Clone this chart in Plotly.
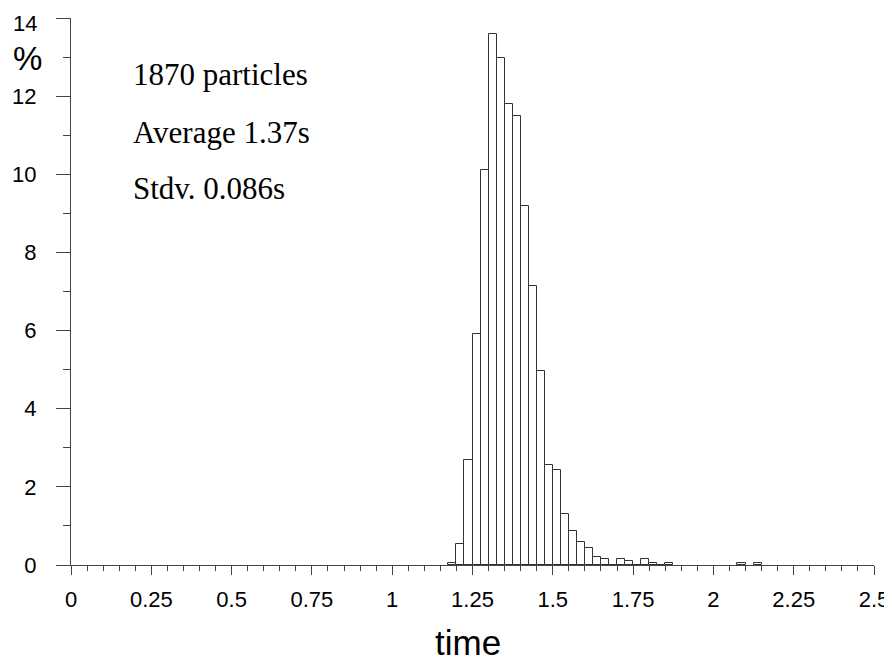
import plotly.graph_objects as go

# Histogram bins (left edges, width 0.025 s) and percentage of particles
bin_left = [1.175, 1.2, 1.225, 1.25, 1.275, 1.3, 1.325, 1.35, 1.375, 1.4,
            1.425, 1.45, 1.475, 1.5, 1.525, 1.55, 1.575, 1.6, 1.625, 1.65,
            1.675, 1.7, 1.725, 1.75, 1.775, 1.8, 1.825, 1.85,
            2.075, 2.125]
percent = [0.05, 0.55, 2.68, 5.92, 10.1, 13.59, 12.97, 11.8, 11.5, 9.2,
           7.15, 4.97, 2.55, 2.42, 1.3, 0.86, 0.6, 0.43, 0.2, 0.16,
           0.0, 0.16, 0.1, 0.0, 0.16, 0.05, 0.0, 0.05,
           0.05, 0.05]
bin_width = 0.025

x_ticks = [0, 0.25, 0.5, 0.75, 1, 1.25, 1.5, 1.75, 2, 2.25, 2.5]
x_ticktext = ["0", "0.25", "0.5", "0.75", "1", "1.25", "1.5", "1.75", "2", "2.25", "2.5"]
y_ticks = [0, 2, 4, 6, 8, 10, 12, 14]
y_ticktext = ["0", "2", "4", "6", "8", "10", "12", "14"]

notes = ["1870 particles", "Average 1.37s", "Stdv. 0.086s"]
note_y = [12.56, 11.08, 9.64]

centers = [b + bin_width / 2 for b in bin_left]

fig = go.Figure()
fig.add_trace(go.Bar(
    x=centers, y=percent, width=bin_width,
    marker=dict(color="white", line=dict(color="#333333", width=1)),
    showlegend=False, hoverinfo="x+y",
))

sans = "Liberation Sans, Arial, sans-serif"
serif = "Liberation Serif, Times New Roman, serif"

# the top y label is drawn as an annotation so it stays inside the page
axis_ticktext = y_ticktext[:-1] + [""]

fig.update_layout(
    width=884, height=653,
    margin=dict(l=63, r=18, t=10, b=96, autoexpand=False),
    plot_bgcolor="white", paper_bgcolor="white",
    bargap=0,
    xaxis=dict(
        range=[0, 2.5], showgrid=False, zeroline=False,
        showline=True, linecolor="#444444", linewidth=1,
        tickmode="array", tickvals=x_ticks, ticktext=x_ticktext,
        ticks="outside", ticklen=9, tickwidth=1, tickcolor="#444444",
        ticklabelstandoff=6, ticklabeloverflow="allow",
        tickfont=dict(family=sans, size=22, color="black"),
        minor=dict(dtick=0.05, ticks="outside", ticklen=5, tickwidth=1,
                   tickcolor="#444444", showgrid=False),
    ),
    yaxis=dict(
        range=[0, 14], showgrid=False, zeroline=False,
        showline=True, linecolor="#444444", linewidth=1,
        tickmode="array", tickvals=y_ticks, ticktext=axis_ticktext,
        ticks="outside", ticklen=14, tickwidth=1, tickcolor="#444444",
        ticklabelstandoff=15, ticklabeloverflow="allow",
        tickfont=dict(family=sans, size=22, color="black"),
        minor=dict(dtick=1, ticks="outside", ticklen=7, tickwidth=1,
                   tickcolor="#444444", showgrid=False),
    ),
)

fig.add_annotation(x=-0.0399, y=1, xref="paper", yref="paper", text=y_ticktext[-1],
                   showarrow=False, xanchor="right", yanchor="top", yshift=9,
                   font=dict(family=sans, size=22, color="black"))

for txt, yv in zip(notes, note_y):
    fig.add_annotation(x=0.187, y=yv, xref="x", yref="y", text=txt,
                       showarrow=False, xanchor="left", yanchor="middle",
                       font=dict(family=serif, size=31, color="black"))

fig.add_annotation(x=-0.0536, y=0.926, xref="paper", yref="paper", text="%",
                   showarrow=False, xanchor="center", yanchor="middle",
                   font=dict(family=sans, size=33, color="black"))
fig.add_annotation(x=0.4946, y=-0.1408, xref="paper", yref="paper", text="time",
                   showarrow=False, xanchor="center", yanchor="middle",
                   font=dict(family=sans, size=35, color="black"))

fig.write_html("out.html")
